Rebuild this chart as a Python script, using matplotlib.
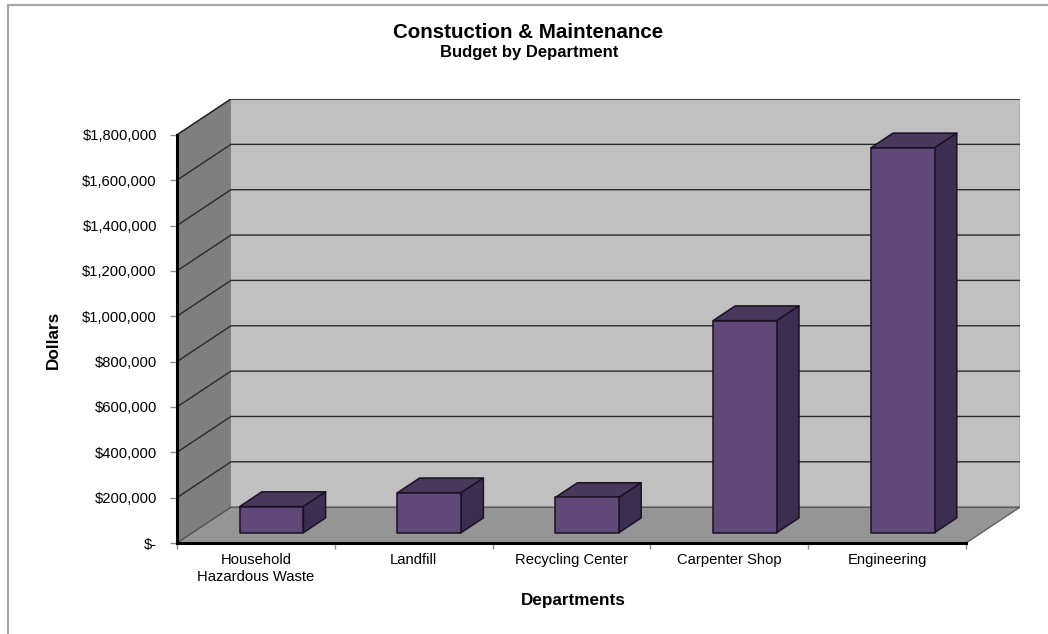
import matplotlib
matplotlib.use("Agg")
import matplotlib.pyplot as plt
from matplotlib.patches import Polygon, Rectangle

plt.rcParams['font.family'] = ['Liberation Sans', 'DejaVu Sans']

# ---- data ----
categories = ["Household\nHazardous Waste", "Landfill", "Recycling Center",
              "Carpenter Shop", "Engineering"]
budget = [115000, 176000, 155000, 935000, 1697000]
y_ticks = [0, 200000, 400000, 600000, 800000, 1000000, 1200000,
           1400000, 1600000, 1800000]
y_tick_labels = ["$-" if v == 0 else "${:,.0f}".format(v) for v in y_ticks]
title = "Constuction & Maintenance"
subtitle = "Budget by Department"
x_label = "Departments"
y_label = "Dollars"

# ---- style / geometry ----
W, H = 1048, 634
YMAX = 1800000
DX = 0.342          # depth offset in category units
DY = 158000         # depth offset in value units
D0, D1 = 0.29, 0.70 # bar depth range
BAR_W = 0.404

BACK = "#C0C0C0"
SIDE = "#7F7F7F"
FLOOR = "#959595"
FRONT_C = "#5E4978"
TOP_C = "#48385C"
RSIDE_C = "#3C2E50"
EDGE = "#1A1224"

fig = plt.figure(figsize=(W / 100, H / 100), dpi=100)
fig.patch.set_facecolor("white")

# chart border
fig.add_artist(Rectangle((7.5 / W, -0.1), 1.2, (H - 4.7) / H + 0.1,
                         transform=fig.transFigure, fill=False,
                         edgecolor="#A6A6A6", lw=1.6))

ax = fig.add_axes([177 / W, (H - 543) / H, (1020 - 177) / W, (543 - 99) / H])
ax.set_xlim(0, len(categories) + DX)
ax.set_ylim(0, YMAX + DY)
ax.patch.set_alpha(0)

n = len(categories)

def P(x, y, d):
    return (x + d * DX, y + d * DY)

# walls & floor
ax.add_patch(Polygon([P(0, 0, 1), P(n, 0, 1), P(n, YMAX, 1), P(0, YMAX, 1)],
                     closed=True, facecolor=BACK, edgecolor="none", zorder=1))
ax.add_patch(Polygon([P(0, 0, 0), P(0, 0, 1), P(0, YMAX, 1), P(0, YMAX, 0)],
                     closed=True, facecolor=SIDE, edgecolor="none", zorder=1))
ax.add_patch(Polygon([P(0, 0, 0), P(n, 0, 0), P(n, 0, 1), P(0, 0, 1)],
                     closed=True, facecolor=FLOOR, edgecolor="none", zorder=1))
# back wall outline
ax.plot([P(0, YMAX, 1)[0], P(n, YMAX, 1)[0]], [P(0, YMAX, 1)[1]] * 2,
        color="#505050", lw=1.2, zorder=2)
ax.plot([P(0, YMAX, 0)[0], P(0, YMAX, 1)[0]], [P(0, YMAX, 0)[1], P(0, YMAX, 1)[1]],
        color="#505050", lw=1.0, zorder=2)
ax.plot([P(n, 0, 1)[0]] * 2, [P(n, 0, 1)[1], P(n, YMAX, 1)[1]],
        color="#707070", lw=1.0, zorder=2)
ax.plot([P(n, 0, 0)[0], P(n, 0, 1)[0]], [P(n, 0, 0)[1], P(n, 0, 1)[1]],
        color="#606060", lw=1.0, zorder=2)

# gridlines (side wall + back wall)
for v in y_ticks:
    col = "#2a2a2a" if v > 0 else "#505050"
    xs = [P(0, v, 0)[0], P(0, v, 1)[0], P(n, v, 1)[0]]
    ys = [P(0, v, 0)[1], P(0, v, 1)[1], P(n, v, 1)[1]]
    ax.plot(xs, ys, color=col, lw=1.0, zorder=2)

# bars
for i, v in enumerate(budget):
    xl = i + 0.5 - BAR_W / 2
    xr = i + 0.5 + BAR_W / 2
    top = [P(xl, v, D0), P(xr, v, D0), P(xr, v, D1), P(xl, v, D1)]
    side = [P(xr, 0, D0), P(xr, 0, D1), P(xr, v, D1), P(xr, v, D0)]
    front = [P(xl, 0, D0), P(xr, 0, D0), P(xr, v, D0), P(xl, v, D0)]
    for poly, c in ((top, TOP_C), (side, RSIDE_C), (front, FRONT_C)):
        ax.add_patch(Polygon(poly, closed=True, facecolor=c, edgecolor=EDGE,
                             lw=1.1, zorder=3, joinstyle="round"))

# axes / spines
for s in ("top", "right"):
    ax.spines[s].set_visible(False)
ax.spines["left"].set_bounds(0, YMAX)
ax.spines["bottom"].set_bounds(0, n)
ax.spines["left"].set_linewidth(2.2)
ax.spines["bottom"].set_linewidth(2.2)
ax.spines["left"].set_zorder(5)
ax.spines["bottom"].set_zorder(5)

ax.set_yticks(y_ticks)
ax.set_yticklabels(y_tick_labels)
ax.tick_params(axis="y", direction="out", length=5, width=1, color="#909090",
               labelsize=10.6, pad=9.5)

ax.set_xticks(range(n + 1))
ax.set_xticklabels([])
ax.set_xticks([i + 0.5 for i in range(n)], minor=True)
ax.set_xticklabels(categories, minor=True)
ax.tick_params(axis="x", which="major", direction="out", length=4, width=1,
               color="#909090")
ax.tick_params(axis="x", which="minor", length=0, labelsize=10.6, pad=7.5)

# titles
fig.text(528 / W, 1 - 33 / H, title, ha="center", va="center",
         fontsize=14.8, fontweight="bold")
fig.text(529 / W, 1 - 52 / H, subtitle, ha="center", va="center",
         fontsize=12, fontweight="bold")
fig.text(573 / W, 1 - 601 / H, x_label, ha="center", va="center",
         fontsize=12.3, fontweight="bold")
fig.text(53 / W, 1 - 340 / H, y_label, ha="center", va="center",
         fontsize=12.3, fontweight="bold", rotation=90)

fig.savefig("out.png", dpi=100, facecolor="white")
